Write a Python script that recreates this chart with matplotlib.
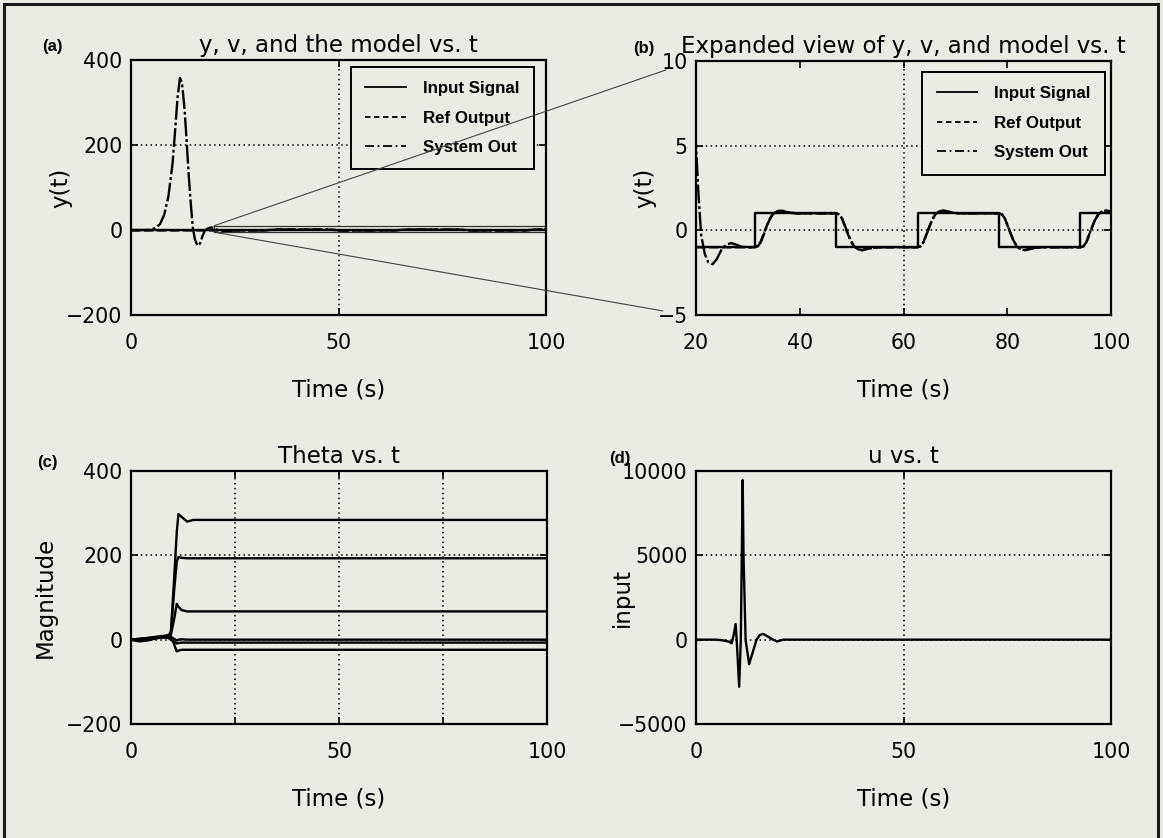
import matplotlib.pyplot as plt
from matplotlib.patches import Rectangle, ConnectionPatch

# square-wave command signal (switch times / levels)
sq_t = [0, 31.3, 47.0, 62.7, 78.4, 94.1, 100]
sq_y = [-1, 1, -1, 1, -1, 1, 1]

# reference model output
ref_t = [0, 31.3, 31.9, 32.5, 33.3, 34.1, 34.8, 35.6, 36.3, 37.2, 38.3, 39.5,
         47.0, 47.6, 48.2, 49.0, 49.8, 50.5, 51.3, 52.0, 52.9, 54.0, 55.2,
         62.7, 63.3, 63.9, 64.7, 65.5, 66.2, 67.0, 67.7, 68.6, 69.7, 70.9,
         78.4, 79.0, 79.6, 80.4, 81.2, 81.9, 82.7, 83.4, 84.3, 85.4, 86.6,
         94.1, 94.7, 95.3, 96.1, 96.9, 97.6, 98.4, 99.1, 100]
ref_y = [-1, -1, -0.93, -0.65, 0.0, 0.62, 0.97, 1.13, 1.16, 1.1, 1.03, 1.0,
         1.0, 0.93, 0.65, 0.0, -0.62, -0.97, -1.13, -1.16, -1.1, -1.03, -1.0,
         -1.0, -0.93, -0.65, 0.0, 0.62, 0.97, 1.13, 1.16, 1.1, 1.03, 1.0,
         1.0, 0.93, 0.65, 0.0, -0.62, -0.97, -1.13, -1.16, -1.1, -1.03, -1.0,
         -1.0, -0.93, -0.65, 0.0, 0.62, 0.97, 1.13, 1.16, 1.12]

# plant output
sys_t = [0, 4, 5, 6, 7, 8, 9, 10, 10.6, 11.2, 11.8, 12.3, 12.9, 13.4, 13.9,
         14.4, 14.9, 15.4, 16.0, 16.6, 17.2, 17.8, 18.6, 19.3,
         20.0, 20.5, 21.0, 21.7, 22.4, 23.2, 24.0, 24.9, 25.8, 26.8, 27.8,
         28.8, 30.0, 31.3, 31.9, 32.5, 33.3, 34.1, 34.8, 35.6, 36.3, 37.2,
         38.3, 39.5, 47.0, 47.6, 48.2, 49.0, 49.8, 50.5, 51.3, 52.0, 52.9,
         54.0, 55.2, 62.7, 63.3, 63.9, 64.7, 65.5, 66.2, 67.0, 67.7, 68.6,
         69.7, 70.9, 78.4, 79.0, 79.6, 80.4, 81.2, 81.9, 82.7, 83.4, 84.3,
         85.4, 86.6, 94.1, 94.7, 95.3, 96.1, 96.9, 97.6, 98.4, 99.1, 100]
sys_y = [0, 0, 1.5, 5, 14, 36, 78, 155, 230, 310, 358, 345, 285, 210, 130,
         63, 5, -22, -37, -32, -15, -1, 4, 6,
         5.0, 2.0, -0.3, -1.4, -1.9, -2.0, -1.7, -1.15, -0.85, -0.75, -0.85,
         -0.97, -1.0, -1.0, -0.95, -0.7, -0.05, 0.58, 0.95, 1.12, 1.18, 1.12,
         1.04, 1.0, 1.0, 0.95, 0.68, 0.04, -0.58, -0.95, -1.12, -1.18, -1.12,
         -1.04, -1.0, -1.0, -0.95, -0.68, -0.03, 0.6, 0.96, 1.13, 1.17, 1.11,
         1.03, 1.0, 1.0, 0.95, 0.67, 0.02, -0.6, -0.96, -1.13, -1.17, -1.11,
         -1.03, -1.0, -1.0, -0.95, -0.67, 0.0, 0.6, 0.96, 1.13, 1.17, 1.12]

# adaptive parameter estimates
theta_t = [0, 2, 4, 6, 8, 9.0, 9.6, 10.4, 11.0, 11.4, 12.2, 13.5, 15.0, 100]
theta1 = [0, 2, 4, 5, 7, 8, 20, 150, 255, 298, 291, 280, 284, 284]
theta2 = [0, -1, 3, 4, 6, 7, 18, 120, 185, 196, 194, 193, 193, 193]
theta3 = [0, 1, 2, 4, 5, 6, 12, 50, 85, 78, 70, 67, 67, 67]
theta4 = [0, -3, 2, 5, 8, 10, 6, 2, -2, 0, 1, 0, 0, 0]
theta5 = [0, -4, -2, 3, 6, 4, 0, -5, -9, -8, -7, -7, -7, -7]
theta6 = [0, 2, 4, 7, 9, 11, 8, -12, -28, -26, -24, -24, -24, -24]

# control input
u_t = [0, 5, 7, 8.0, 8.6, 9.1, 9.55, 9.8, 10.4, 10.8, 11.25, 11.45, 11.95,
       12.8, 13.6, 14.6, 15.4, 16.2, 17.2, 18.6, 19.5, 21, 100]
u_y = [0, 0, -60, -120, -215, 300, 930, 0, -2790, 0, 9470, 5000, 0,
       -1450, -800, 0, 280, 340, 200, 0, -110, 0, 0]

bg = '#ebebe4'
W, H = 1163, 838
plt.rcParams['font.family'] = 'DejaVu Sans'

fig = plt.figure(figsize=(W / 100, H / 100), dpi=100, facecolor=bg)

lw = 1.7
dash = (0, (4, 1.5))
dashdot = (0, (8, 1.2, 1.2, 1.2))
txt_size = 16.5


def make_axes(left, top, right, bottom):
    return fig.add_axes([left / W, 1 - bottom / H, (right - left) / W, (bottom - top) / H])


def style(ax, xlim, ylim, xticks, yticks, xgrid, ygrid, xminor=()):
    ax.set_facecolor(bg)
    ax.set_xlim(xlim)
    ax.set_ylim(ylim)
    ax.set_xticks(xticks)
    ax.set_yticks(yticks)
    if xminor:
        ax.set_xticks(xminor, minor=True)
    ax.tick_params(which='both', direction='in', top=True, right=True,
                   length=5, width=1.2, color='k')
    ax.tick_params(axis='x', labelsize=14.8, pad=13)
    ax.tick_params(axis='y', labelsize=14.8, pad=6)
    for g in xgrid:
        ax.axvline(g, color='k', lw=1.1, ls=(0, (1, 2.2)), zorder=1)
    for g in ygrid:
        ax.axhline(g, color='k', lw=1.1, ls=(0, (1, 2.2)), zorder=1)
    for s in ax.spines.values():
        s.set_linewidth(1.6)


def labels(ax, title, ylabel, ylab_x):
    ax.set_title(title, fontsize=txt_size, pad=6)
    ax.set_xlabel('Time (s)', fontsize=txt_size)
    ax.xaxis.set_label_coords(0.5, -0.295)
    ax.xaxis.label.set_va('center')
    ax.set_ylabel(ylabel, fontsize=txt_size)
    ax.yaxis.set_label_coords(ylab_x, 0.5)
    ax.yaxis.label.set_va('center')


def signals(ax):
    h1, = ax.step(sq_t, sq_y, where='post', color='k', lw=lw, zorder=3)
    h2, = ax.plot(ref_t, ref_y, color='k', lw=lw, ls=dash, zorder=3)
    h3, = ax.plot(sys_t, sys_y, color='k', lw=lw, ls=dashdot, zorder=3)
    return [h1, h2, h3]


def legend(ax, handles, anchor):
    leg = ax.legend(handles, ['Input Signal', 'Ref Output', 'System Out'],
                    loc='upper right', bbox_to_anchor=anchor, borderaxespad=0,
                    prop={'family': 'Liberation Sans', 'weight': 'bold', 'size': 12.2},
                    handlelength=2.4, handletextpad=1.0, labelspacing=0.85,
                    borderpad=0.85, fancybox=False, framealpha=1,
                    facecolor=bg, edgecolor='k')
    leg.get_frame().set_linewidth(1.4)
    for h in leg.legend_handles:
        h.set_linewidth(1.3)
        h.set_linestyle('-' if h is leg.legend_handles[0] else
                        ((0, (3, 2)) if h is leg.legend_handles[1] else (0, (5, 2, 1, 2))))
    leg.set_zorder(5)


# (a) full run
ax_a = make_axes(131, 60, 546, 315)
style(ax_a, (0, 100), (-200, 400), [0, 50, 100], [-200, 0, 200, 400], [50], [0, 200])
legend(ax_a, signals(ax_a), (0.971, 0.973))
labels(ax_a, 'y, v, and the model vs. t', 'y(t)', -0.168)
ax_a.add_patch(Rectangle((20, -5), 80, 15, fill=False, ec='#333333', lw=0.9, zorder=2))

# (b) expanded view
ax_b = make_axes(696, 61, 1111, 315)
style(ax_b, (20, 100), (-5, 10), [20, 40, 60, 80, 100], [-5, 0, 5, 10], [60], [0, 5])
legend(ax_b, signals(ax_b), (0.986, 0.957))
labels(ax_b, 'Expanded view of y, v, and model vs. t', 'y(t)', -0.123)

# lines tying the zoom box to the expanded panel
for xy_a, xy_b in [((20, 10), (-0.072, 0.965)), ((20, -5), (-0.080, 0.016))]:
    con = ConnectionPatch(xyA=xy_a, coordsA='data', axesA=ax_a,
                          xyB=xy_b, coordsB='axes fraction', axesB=ax_b,
                          color='#444444', lw=0.8, zorder=6)
    fig.add_artist(con)

# (c) parameter estimates
ax_c = make_axes(131, 471, 547, 724)
style(ax_c, (0, 100), (-200, 400), [0, 50, 100], [-200, 0, 200, 400],
      [25, 50, 75], [0, 200], xminor=[25, 75])
for th in [theta1, theta2, theta3, theta4, theta5, theta6]:
    ax_c.plot(theta_t, th, color='k', lw=lw, zorder=3)
labels(ax_c, 'Theta vs. t', 'Magnitude', -0.205)

# (d) control input
ax_d = make_axes(696, 471, 1111, 724)
style(ax_d, (0, 100), (-5000, 10000), [0, 50, 100], [-5000, 0, 5000, 10000], [50], [0, 5000])
ax_d.plot(u_t, u_y, color='k', lw=lw, zorder=3)
labels(ax_d, 'u vs. t', 'input', -0.178)

# panel tags
for txt, x, y in [('(a)', 52, 46), ('(b)', 644, 49), ('(c)', 47, 462), ('(d)', 620, 458)]:
    fig.text(x / W, 1 - y / H, txt, ha='center', va='center', fontsize=12,
             fontweight='bold', family='Liberation Sans')

# outer frame
fig.add_artist(Rectangle((4 / W, -0.02), (1158 - 4) / W, 1.02 - 4 / H,
                         transform=fig.transFigure, fill=False, ec='#1a1a1a', lw=2.2))

fig.savefig('out.png', dpi=100, facecolor=bg)
